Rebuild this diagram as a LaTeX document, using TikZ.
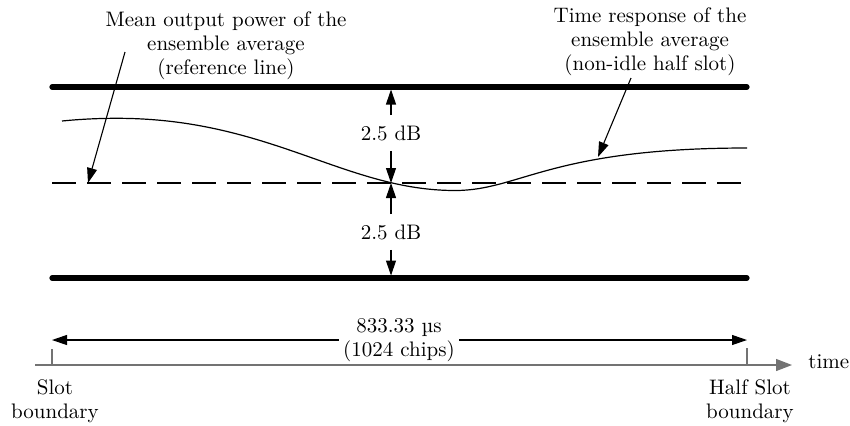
\documentclass[tikz,border=0pt]{standalone}
\usepackage{fontspec}
\usetikzlibrary{arrows.meta}
\begin{document}
\begin{tikzpicture}[x=0.5pt,y=-0.5pt,
  font=\fontsize{10.5}{12}\selectfont,
  boldline/.style={line width=2.6pt, line cap=round},
  tipped/.style={line width=0.55pt, -{Triangle[length=7.5pt,width=5pt]}},
  lbl/.style={align=center, inner sep=0pt},
  dblbl/.style={inner xsep=1pt, inner ysep=5pt},
  axisline/.style={line width=0.6pt, draw=black!55},
]
\useasboundingbox (0,0) rectangle (850,425);

% thick limit lines
\coordinate (tl) at (52,87);
\coordinate (tr) at (747,87);
\coordinate (bl) at (52,278);
\coordinate (br) at (747,278);
\draw[boldline] (tl) -- (tr);
\draw[boldline] (bl) -- (br);

% dashed reference line
\coordinate (dl) at (52,183);
\coordinate (dr) at (747,183);
\draw[line width=0.6pt, dash pattern=on 12pt off 5.5pt] (dl) -- (dr);

% time response curve
\coordinate (c0) at (62,121);
\coordinate (cmax) at (117,118.3);
\coordinate (cmin) at (455,190.5);
\coordinate (cend) at (747,148);
\draw[line width=0.6pt] (c0) .. controls (80,119.2) and (98,118.3) .. (cmax)
  .. controls (270,118.3) and (345,190.5) .. (cmin)
  .. controls (520,190.5) and (550,148) .. (cend);

% 2.5 dB arrows
\coordinate (vtop) at (391,89.5);
\coordinate (vmid) at (391,183);
\coordinate (vbot) at (391,275.5);
\node[dblbl] (db1) at (391,133) {2.5 dB};
\node[dblbl] (db2) at (391,232) {2.5 dB};
\draw[tipped] (db1.north) -- (vtop);
\draw[tipped] (db1.south) -- (vmid);
\draw[tipped] (db2.north) -- (vmid);
\draw[tipped] (db2.south) -- (vbot);

% annotations
\node[lbl] (meanlbl) at (226,46) {Mean output power of the\\ensemble average\\(reference line)};
\coordinate (meanfrom) at (125,52);
\coordinate (meanto) at (88,183);
\draw[tipped] (meanfrom) -- (meanto);

\node[lbl] (resplbl) at (650,42) {Time response of the\\ensemble average\\(non-idle half slot)};
\coordinate (respfrom) at (631,78);
\coordinate (respto) at (598,157);
\draw[tipped] (respfrom) -- (respto);

% time axis
\coordinate (ax0) at (35,365);
\coordinate (ax1) at (792,365);
\draw[axisline, -{Triangle[length=8pt,width=6pt]}] (ax0) -- (ax1);
\node[anchor=west, inner sep=0pt] (timelbl) at (808,362) {time};
\coordinate (t0a) at (52,349);
\coordinate (t0b) at (52,365);
\coordinate (t1a) at (747,348);
\coordinate (t1b) at (747,365);
\draw[axisline] (t0a) -- (t0b);
\draw[axisline] (t1a) -- (t1b);

% span arrow
\node[lbl, inner xsep=2pt] (span) at (399,340) {833.33 µs\\(1024 chips)};
\coordinate (spanl) at (52,340);
\coordinate (spanr) at (747,340);
\draw[tipped] (span.west) -- (spanl);
\draw[tipped] (span.east) -- (spanr);

% boundary labels
\node[lbl] (slotlbl) at (55,401) {Slot\\boundary};
\node[lbl] (halflbl) at (750,401) {Half Slot\\boundary};
\end{tikzpicture}
\end{document}
